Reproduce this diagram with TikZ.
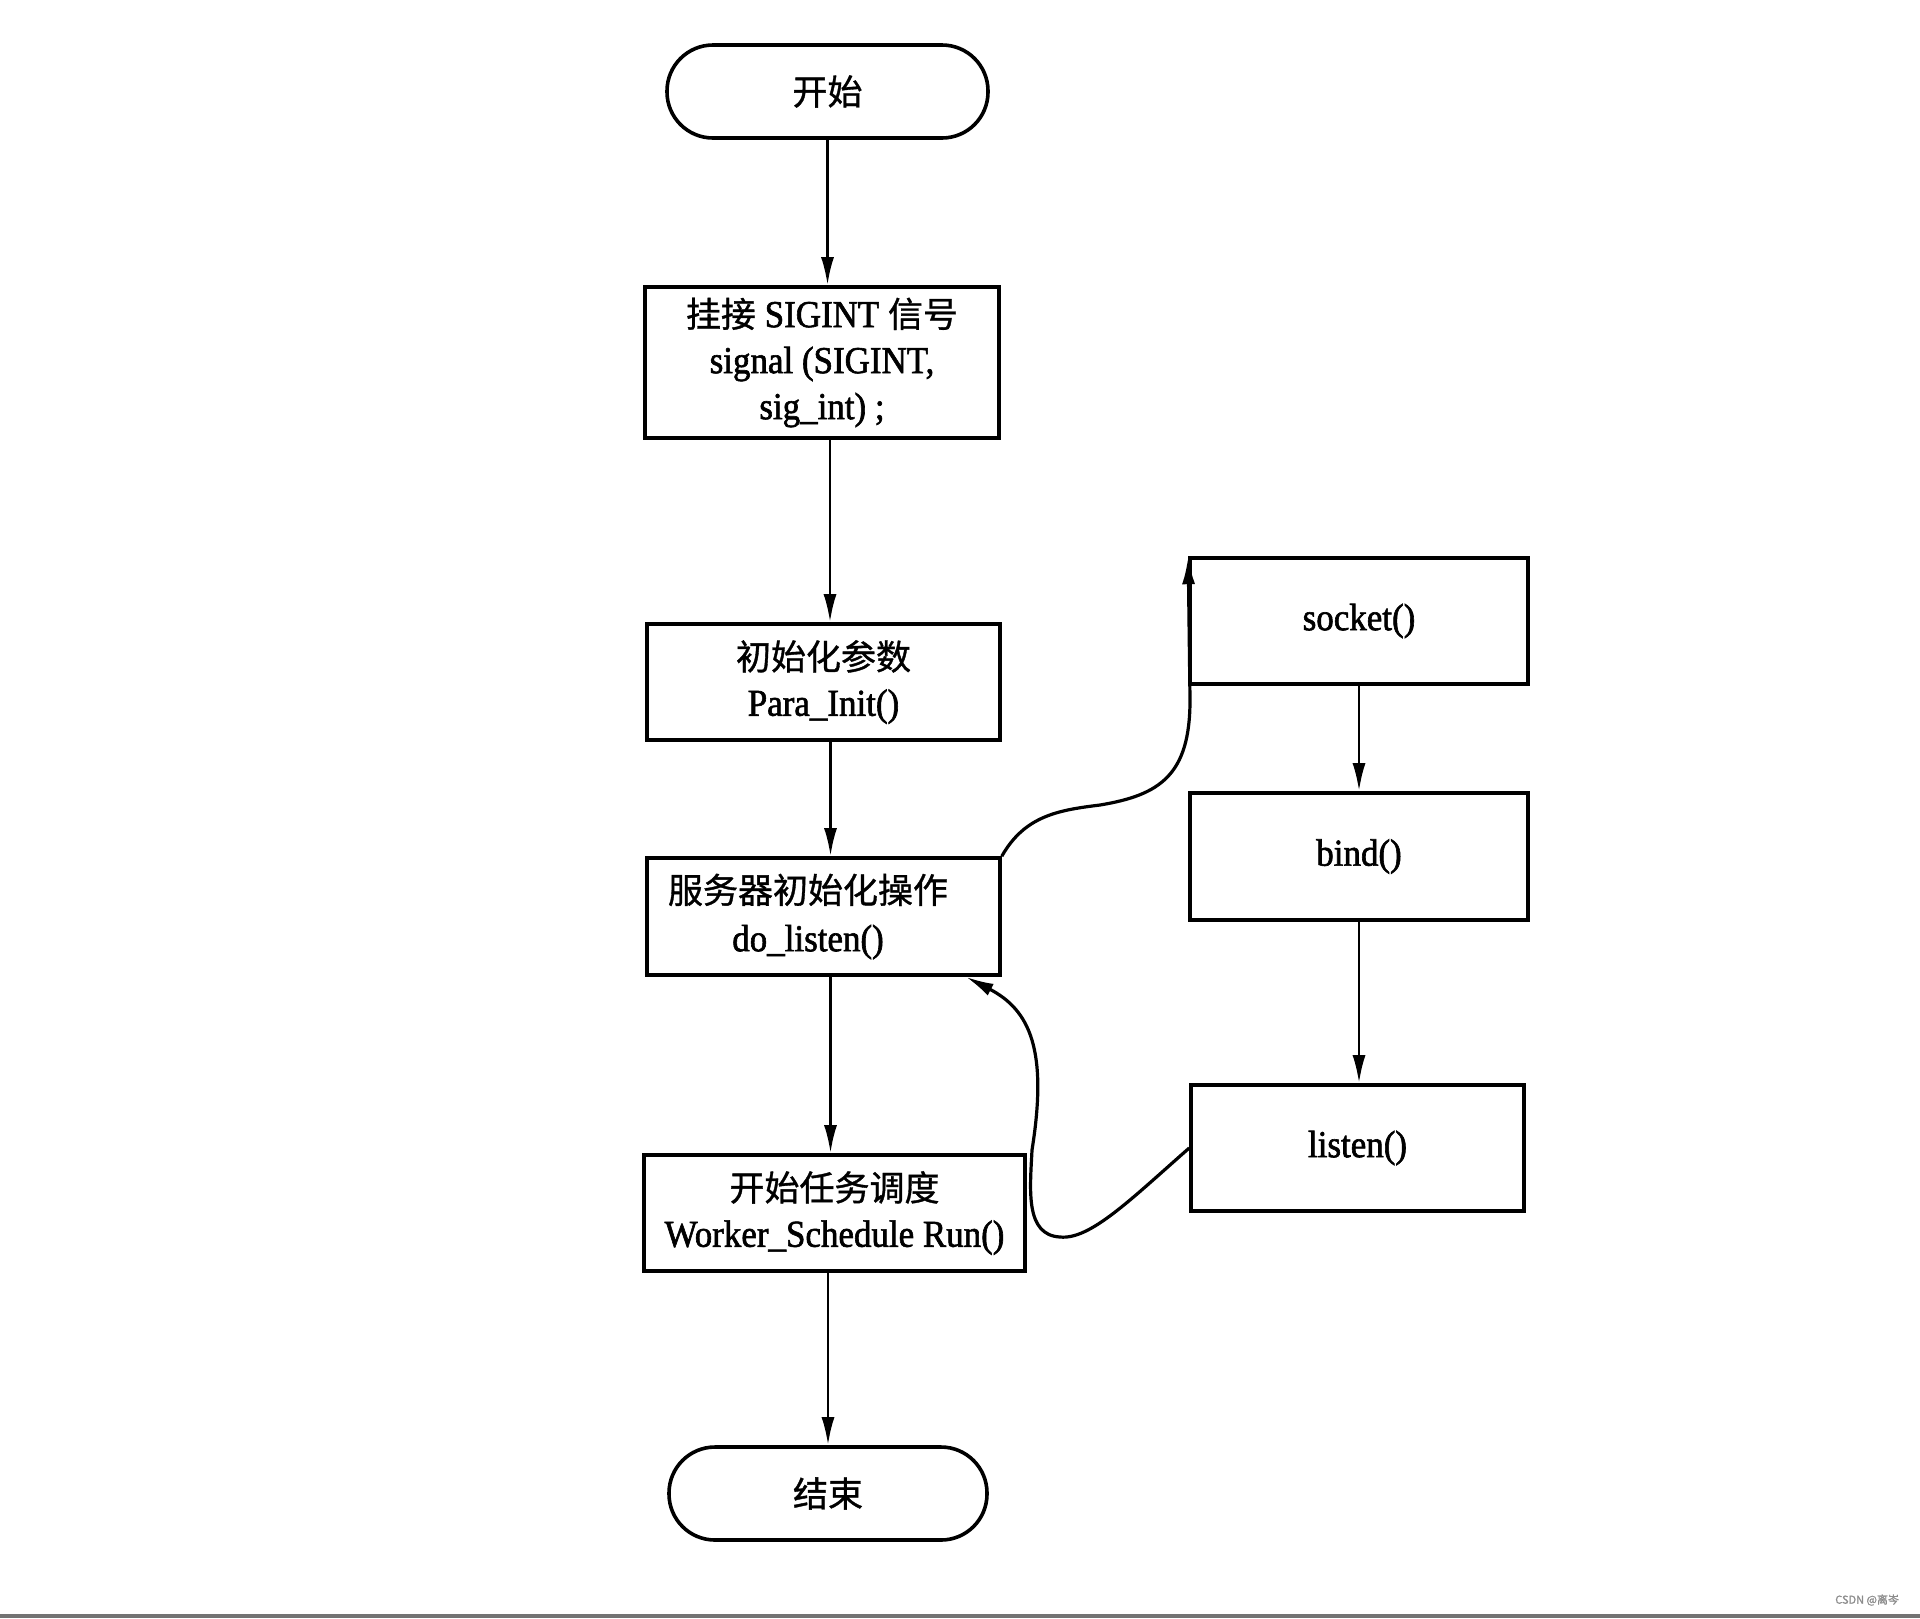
\documentclass[tikz,border=0pt]{standalone}
\usepackage{fontspec}
\setmainfont{Liberation Serif}[FakeStretch=0.92,FakeBold=1.6]
\newfontfamily\cjk{Noto Sans CJK SC}[FakeBold=1]
\usetikzlibrary{arrows.meta}
\begin{document}
\begin{tikzpicture}[x=0.5pt,y=-0.5pt,
  box/.style={draw, line width=1.8pt, align=center, inner sep=0pt,
              font=\fontsize{19}{23}\selectfont},
  term/.style={box, rounded corners=23pt},
  arr/.style={-{Latex[length=14pt,width=6.5pt]}, line width=1.4pt},
  cur/.style={-{Latex[length=14pt,width=6.5pt]}, line width=1.6pt}]
\useasboundingbox (0,0) rectangle (1920,1618);
\fill[white] (0,0) rectangle (1920,1618);
\fill[black!55] (0,1614) rectangle (1920,1618);

\node[term, minimum width=160.5pt, minimum height=46.5pt] (start) at (827.5,91.5) {{\cjk\fontsize{17.5}{22}\selectfont 开始}};
\node[box, minimum width=177pt, minimum height=75.5pt] (b1) at (822,362.5)
  {{\cjk\fontsize{17.5}{22}\selectfont 挂接} SIGINT {\cjk\fontsize{17.5}{22}\selectfont 信号}\\signal (SIGINT,\\sig\_int) ;};
\node[box, minimum width=176.5pt, minimum height=58pt] (b2) at (823.5,682)
  {{\cjk\fontsize{17.5}{22}\selectfont 初始化参数}\\Para\_Init()};
\node[box, minimum width=176.5pt, minimum height=58.5pt] (b3) at (823.5,916.5) {};
\node[font=\fontsize{19}{24}\selectfont, align=center] (b3t) at (808,916.5)
  {{\cjk\fontsize{17.5}{22}\selectfont 服务器初始化操作}\\do\_listen()};
\node[box, minimum width=190.5pt, minimum height=58pt] (b4) at (834.5,1213)
  {{\cjk\fontsize{17.5}{22}\selectfont 开始任务调度}\\Worker\_Schedule Run()};
\node[term, minimum width=159pt, minimum height=46.5pt] (end) at (828,1493.5) {{\cjk\fontsize{17.5}{22}\selectfont 结束}};

\node[box, minimum width=169pt, minimum height=63pt] (sock) at (1359,621) {socket()};
\node[box, minimum width=169pt, minimum height=63.5pt] (bind) at (1359,856.5) {bind()};
\node[box, minimum width=166.5pt, minimum height=63pt] (lis) at (1357.5,1148) {listen()};

\draw[arr] (start.south) -- (start.south |- b1.north);
\draw[arr] ([xshift=4pt]b1.south) -- ([xshift=4pt]b1.south |- b2.north);
\draw[arr] ([xshift=3.5pt]b2.south) -- ([xshift=3.5pt]b2.south |- b3.north);
\draw[arr] ([xshift=3.5pt]b3.south) -- ([xshift=3.5pt]b3.south |- b4.north);
\draw[arr] (end.north |- b4.south) -- (end.north);

\draw[arr] (sock.south) -- (sock.south |- bind.north);
\draw[arr] (bind.south) -- (bind.south |- lis.north);

\draw[cur] (b3.north east) .. controls (1025,815) and (1060,810) .. (1100,805)
  .. controls (1160,795) and (1190,775) .. (1190,700) -- (sock.north west);
\draw[cur] (lis.west) .. controls (1130,1200) and (1090,1240) .. (1060,1237)
  .. controls (1025,1235) and (1030,1190) .. (1032,1150)
  .. controls (1048,1050) and (1030,1010) .. ([xshift=-18pt]b3.south east);

\node[text=black!45, font=\cjk\fontsize{5.5}{6}\selectfont, anchor=east] (wm) at (1906,1600) {CSDN @离岑};
\end{tikzpicture}
\end{document}
